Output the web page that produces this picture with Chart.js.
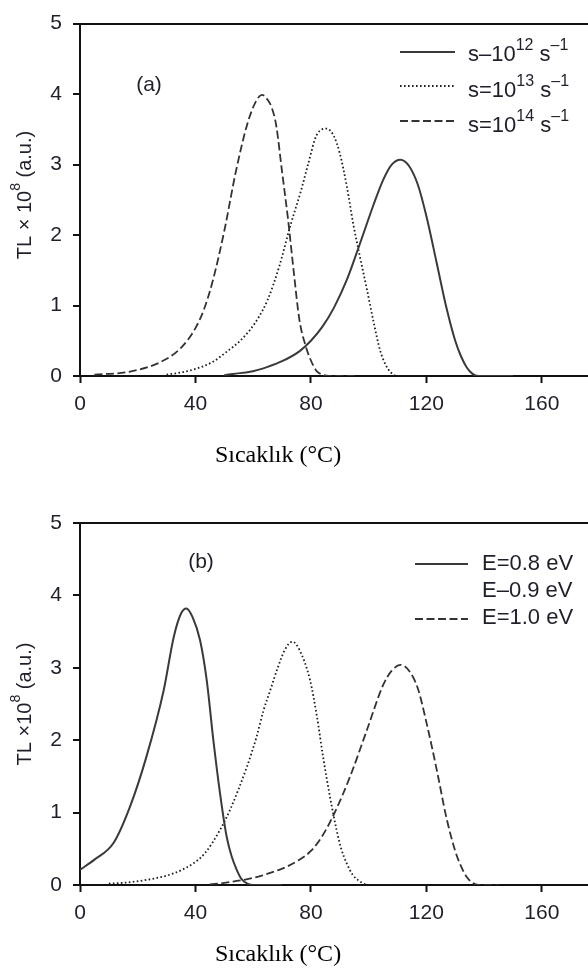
<!DOCTYPE html>
<html>
<head>
<meta charset="utf-8">
<script src="https://cdn.jsdelivr.net/npm/chart.js@4.4.0/dist/chart.umd.min.js"></script>
<style>
html, body { margin: 0; padding: 0; background: #fff; overflow: hidden; }
canvas { position: absolute; left: 0; }
#ca { top: 0; }
#cb { top: 480px; }
</style>
</head>
<body>
<canvas id="ca" width="588" height="480"></canvas>
<canvas id="cb" width="588" height="495"></canvas>
<script>
// axis ticks
const xTicks = [0, 40, 80, 120, 160]
const yTicks = [0, 1, 2, 3, 4, 5]

// panel (a): frequency factor s
const aLabels = ['s–10^{12} s^{–1}', 's=10^{13} s^{–1}', 's=10^{14} s^{–1}']
const a12T = [50, 53, 59, 65, 70, 76, 80, 84, 88, 92.5, 97, 101.7, 105, 108, 111, 114, 117, 120, 123.6, 127, 130, 132, 134, 136, 138, 150]
const a12I = [0.01, 0.03, 0.06, 0.13, 0.21, 0.35, 0.5, 0.7, 0.97, 1.37, 1.88, 2.43, 2.78, 3.0, 3.07, 2.98, 2.72, 2.27, 1.6, 0.96, 0.5, 0.28, 0.12, 0.03, 0, 0]
const a13T = [30, 35, 40, 46, 51, 55.5, 59, 62, 65, 69, 73, 76.5, 79, 82, 85.5, 88, 90, 92.4, 94.7, 97, 99.4, 101.7, 104, 106, 107.5, 109, 111, 120]
const a13I = [0.02, 0.05, 0.1, 0.2, 0.35, 0.5, 0.66, 0.84, 1.08, 1.55, 2.15, 2.62, 3.0, 3.42, 3.51, 3.4, 3.16, 2.7, 2.15, 1.69, 1.23, 0.77, 0.36, 0.15, 0.06, 0.01, 0, 0]
const a14T = [5, 17, 28, 35, 40, 43, 46, 50, 54, 58, 61, 63, 65, 66.5, 68, 70, 72, 74, 76, 78, 80, 82, 84, 86, 95]
const a14I = [0.02, 0.06, 0.2, 0.4, 0.68, 0.95, 1.35, 2.06, 2.9, 3.58, 3.9, 3.99, 3.92, 3.8, 3.55, 2.9, 2.25, 1.5, 0.8, 0.45, 0.22, 0.07, 0.02, 0, 0]

// panel (b): activation energy E
const bLabels = ['E=0.8 eV', 'E–0.9 eV', 'E=1.0 eV']
const b08T = [0, 5, 11.6, 17.3, 23, 29, 32.5, 35, 36.8, 39, 41.6, 44, 46.2, 48.5, 50.8, 52.5, 54.3, 56, 58, 60, 70]
const b08I = [0.21, 0.35, 0.58, 1.08, 1.77, 2.69, 3.43, 3.75, 3.82, 3.7, 3.38, 2.8, 2.0, 1.27, 0.67, 0.4, 0.21, 0.08, 0.02, 0, 0]
const b09T = [10, 15, 23, 32.4, 39.3, 43.3, 48.5, 52, 57.8, 61.2, 63.5, 66, 68.5, 71, 73.6, 76, 79.7, 82, 84.3, 86.6, 88.9, 90.5, 92.4, 94.5, 97, 100, 110]
const b09I = [0.02, 0.03, 0.07, 0.16, 0.3, 0.44, 0.76, 1.04, 1.63, 2.05, 2.4, 2.7, 3.0, 3.25, 3.36, 3.25, 2.83, 2.35, 1.75, 1.22, 0.76, 0.5, 0.3, 0.14, 0.05, 0, 0]
const b10T = [45, 50, 58, 63, 69, 72, 76, 80, 84, 88, 93.6, 99.4, 105, 108, 111, 114, 117, 120, 123.6, 127, 130, 132, 134, 136, 138, 145]
const b10I = [0.01, 0.03, 0.08, 0.13, 0.21, 0.26, 0.35, 0.47, 0.68, 0.98, 1.5, 2.14, 2.76, 2.96, 3.04, 2.96, 2.72, 2.25, 1.59, 0.92, 0.47, 0.26, 0.11, 0.03, 0, 0]

const FONT = 'Liberation Sans'
Chart.defaults.font.family = '"Liberation Sans", Arial, sans-serif'

const solid = {borderColor: '#3a3a3a', borderWidth: 2, borderDash: []}
const dotted = {borderColor: '#1e1e1e', borderWidth: 1.8, borderDash: [1.6, 2.4]}
const dashed = {borderColor: '#333', borderWidth: 1.8, borderDash: [8, 3.5]}

function series(t, v) {
  return t.map((x, i) => ({x: x, y: v[i]}))
}

function dataset(label, t, v, style) {
  return Object.assign({label: label, data: series(t, v), pointRadius: 0, fill: false,
    cubicInterpolationMode: 'monotone'}, style)
}

// text with ^{...} superscripts
function rich(ctx, text, x, y, size, align) {
  let parts = [], re = /\^\{([^}]*)\}/g, last = 0, m
  while ((m = re.exec(text))) {
    if (m.index > last) parts.push([text.slice(last, m.index), false])
    parts.push([m[1], true])
    last = re.lastIndex
  }
  if (last < text.length) parts.push([text.slice(last), false])
  let main = size + 'px "' + FONT + '"'
  let sup = Math.round(size * 0.72) + 'px "' + FONT + '"'
  let w = 0
  for (let p of parts) { ctx.font = p[1] ? sup : main; w += ctx.measureText(p[0]).width }
  let cx = align == 'center' ? x - w / 2 : x
  ctx.textAlign = 'left'
  ctx.textBaseline = 'middle'
  for (let p of parts) {
    ctx.font = p[1] ? sup : main
    ctx.fillText(p[0], cx, p[1] ? y - size * 0.45 : y)
    cx += ctx.measureText(p[0]).width
  }
}

const notes = {
  id: 'notes',
  afterDraw(chart, args, o) {
    let ctx = chart.ctx
    ctx.save()
    ctx.fillStyle = '#1f1f2a'
    ctx.font = '21px "' + FONT + '"'
    ctx.textAlign = 'center'
    ctx.textBaseline = 'middle'
    ctx.fillText(o.tag, o.tagX, o.tagY)

    ctx.save()
    ctx.translate(o.yTitleX, o.yTitleY)
    ctx.rotate(-Math.PI / 2)
    rich(ctx, o.yTitle, 0, 0, 20, 'center')
    ctx.restore()

    ctx.fillStyle = '#000'
    ctx.font = '24px "Liberation Serif"'
    ctx.textAlign = 'center'
    ctx.textBaseline = 'middle'
    ctx.fillText(o.xTitle, o.xTitleX, o.xTitleY)

    ctx.fillStyle = '#1f1f2a'
    chart.data.datasets.forEach((ds, i) => {
      let ly = o.lineY[i]
      if (ly != null) {
        ctx.beginPath()
        ctx.setLineDash(ds.borderDash)
        ctx.lineWidth = ds.borderWidth
        ctx.strokeStyle = ds.borderColor
        ctx.moveTo(o.lineX0, ly)
        ctx.lineTo(o.lineX1, ly)
        ctx.stroke()
        ctx.setLineDash([])
      }
      rich(ctx, ds.label, o.textX, o.textY[i], 22, 'left')
    })
    ctx.restore()
  }
}

function makeOptions(padTop, xHeight, noteOpts) {
  return {
    responsive: false,
    animation: false,
    layout: {padding: {top: padTop, right: 0, left: 0, bottom: 0}},
    plugins: {legend: {display: false}, tooltip: {enabled: false}, notes: noteOpts},
    scales: {
      x: {
        type: 'linear', min: 0, max: 176,
        afterFit: s => { s.height = xHeight },
        afterBuildTicks: s => { s.ticks = xTicks.map(v => ({value: v})) },
        grid: {drawOnChartArea: false, tickLength: 7, tickColor: '#111', tickWidth: 2},
        border: {color: '#111', width: 2},
        ticks: {color: '#1f1f2a', font: {size: 21}, padding: 9, maxRotation: 0}
      },
      y: {
        min: 0, max: 5,
        afterFit: s => { s.width = 80 },
        afterBuildTicks: s => { s.ticks = yTicks.map(v => ({value: v})) },
        grid: {tickLength: 7, tickColor: '#111', tickWidth: 2, lineWidth: 2,
          color: c => (c.tick && c.tick.value == 5) ? '#111' : 'rgba(0,0,0,0)'},
        border: {color: '#111', width: 2},
        ticks: {color: '#1f1f2a', font: {size: 21}, padding: 11}
      }
    }
  }
}

new Chart(document.getElementById('ca'), {
  type: 'line',
  data: {datasets: [
    dataset(aLabels[0], a12T, a12I, solid),
    dataset(aLabels[1], a13T, a13I, dotted),
    dataset(aLabels[2], a14T, a14I, dashed)
  ]},
  options: makeOptions(13, 104, {
    tag: '(a)', tagX: 149, tagY: 85,
    yTitle: 'TL × 10^{8} (a.u.)', yTitleX: 25, yTitleY: 195,
    xTitle: 'Sıcaklık (°C)', xTitleX: 278, xTitleY: 456,
    lineX0: 400, lineX1: 455, lineY: [52, 86, 121],
    textX: 468, textY: [55, 91, 126]
  }),
  plugins: [notes]
})

new Chart(document.getElementById('cb'), {
  type: 'line',
  data: {datasets: [
    dataset(bLabels[0], b08T, b08I, solid),
    dataset(bLabels[1], b09T, b09I, dotted),
    dataset(bLabels[2], b10T, b10I, dashed)
  ]},
  options: makeOptions(43, 90, {
    tag: '(b)', tagX: 201, tagY: 82,
    yTitle: 'TL ×10^{8} (a.u.)', yTitleX: 25, yTitleY: 224,
    xTitle: 'Sıcaklık (°C)', xTitleX: 278, xTitleY: 475,
    lineX0: 415, lineX1: 468, lineY: [84, null, 139],
    textX: 482, textY: [84, 111, 138]
  }),
  plugins: [notes]
})
</script>
</body>
</html>
